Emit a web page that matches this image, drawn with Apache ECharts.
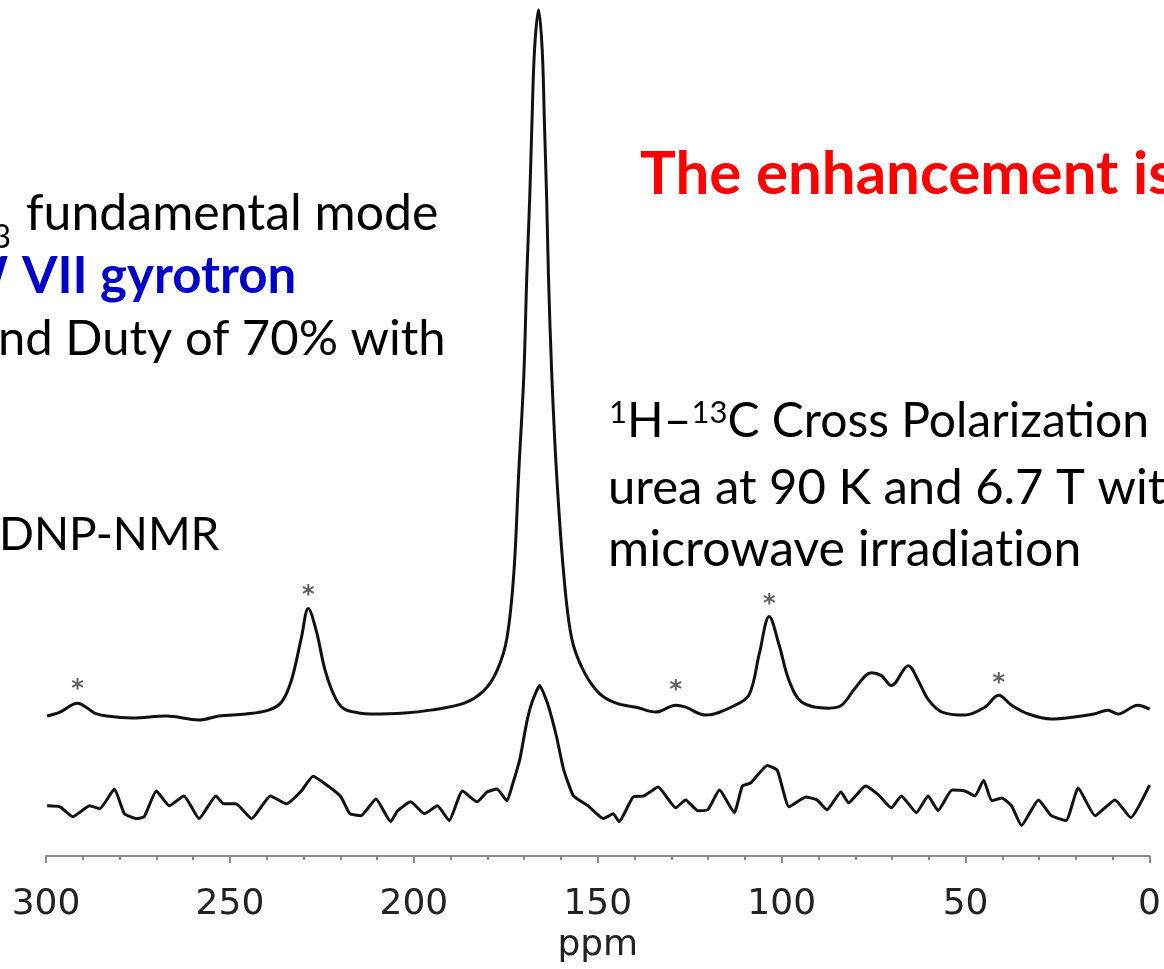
<!DOCTYPE html>
<html>
<head>
<meta charset="utf-8">
<script src="https://cdn.jsdelivr.net/npm/echarts@6/dist/echarts.min.js"></script>
<style>
html,body{margin:0;padding:0;background:#fff;}
#chart{width:1164px;height:969px;}
</style>
</head>
<body>
<div id="chart"></div>
<script>
// ---- axis tick labels (ppm) ----
const ppmTicks = [300, 250, 200, 150, 100, 50, 0];

// ---- DNP-enhanced spectrum (microwave on): chemical shift (ppm) and intensity ----
const onPpm = [299.7,296.2,291.4,288.7,286.8,283.5,276.5,267.3,258.4,253.0,245.7,239.5,236.0,233.3,230.6,228.7,226.5,224.1,221.4,219.0,215.0,211.7,202.5,195.5,186.3,180.9,177.4,174.7,172.8,171.5,170.1,169.3,168.5,167.9,167.2,166.1,165.1,164.5,163.9,163.4,162.5,161.2,159.3,157.1,153.9,149.6,145.0,139.6,134.2,128.8,126.1,120.7,112.6,108.8,106.1,103.4,100.7,98.0,94.5,87.2,83.7,79.9,75.6,72.9,70.2,65.6,62.9,60.2,56.4,50.2,44.8,41.0,37.5,32.9,26.7,20.5,15.1,11.3,8.6,3.2,0];
const onIntensity = [-0.85,-0.28,0.99,0.28,-0.42,-0.85,-1.13,-0.85,-1.41,-0.85,-0.56,0,1.13,4.24,10.31,14.55,11.3,5.65,1.8,0.2,-0.4,-0.56,-0.42,0,0.99,2.82,5.65,10.31,19.77,33.9,48.0,62.1,73.4,84.0,94.5,100.3,94.5,84.0,73.4,62.1,48.0,33.9,19.77,10.31,5.65,2.4,0.99,0.42,-0.28,0.71,0.42,-0.71,0.71,2.26,8.05,13.4,9.32,4.24,1.13,0.28,0.71,3.25,5.37,4.94,3.53,6.36,4.24,1.55,-0.28,-0.71,0.42,2.12,0.71,-0.56,-1.27,-0.99,-0.56,0,-0.56,0.71,0.14];

// ---- spectrum without microwave irradiation ----
const offPpm = [299.7,296.2,292.7,288.1,285.4,281.4,278.7,275.4,273.3,270.0,266.5,262.5,258.4,253.8,251.7,248.4,244.1,239.0,234.6,230.6,227.4,223.3,219.8,217.4,214.4,210.3,206.3,204.4,200.9,197.1,193.6,190.4,186.8,182.8,180.1,177.4,174.7,173.3,171.2,169.3,167.9,165.8,163.6,161.2,159.3,156.6,152.6,148.5,145.8,144.2,140.4,137.4,133.6,128.8,126.1,122.8,120.1,116.9,112.9,110.7,108.5,103.9,101.2,98.0,93.4,90.4,87.7,83.9,81.8,77.2,73.7,70.2,67.5,63.4,60.2,57.5,53.7,50.2,47.5,45.1,42.9,40.2,37.5,34.8,30.2,26.7,22.7,19.4,14.8,9.4,5.1,0];
const offIntensity = [0.42,0.28,-1.13,0.42,0,2.82,-0.71,-1.41,-1.13,2.54,0.42,1.84,-1.41,1.84,0.71,0.71,-1.41,1.84,0.71,2.54,4.66,3.25,1.69,-0.71,-0.99,1.41,-1.84,-0.28,0.99,-0.71,0.42,-1.69,2.54,0.99,2.4,2.82,1.13,3.25,7.06,12.4,15.2,17.66,15.0,10.31,5.65,1.84,0.42,-1.41,-0.71,-1.84,1.69,1.84,3.11,0.14,1.27,-0.28,-0.14,2.68,-0.56,3.25,3.67,6.21,5.51,0.28,1.69,1.27,-0.14,2.4,0.85,3.25,1.98,0.14,1.84,-0.56,1.84,-0.28,2.68,2.54,1.84,4.1,1.13,1.55,0.42,-2.4,1.27,-0.99,-1.69,2.97,-0.99,1.27,-1.27,3.39];

// ---- spinning sidebands marked with asterisks (ppm, intensity level of the mark) ----
const sidebandPpm = [291.4, 228.7, 128.8, 103.4, 41.0];
const sidebandLevel = [3.8, 17.2, 3.7, 16.0, 4.7];

const zip = (a, b) => a.map((v, i) => [v, b[i]]);

const chart = echarts.init(document.getElementById('chart'), null, {renderer: 'canvas'});

const F = 'Lato';
const cy = (baseline, size) => baseline - 0.387 * size;

const option = {
  animation: false,
  backgroundColor: '#ffffff',
  grid: {left: 46, right: 7, top: 0, bottom: 101, containLabel: false},
  xAxis: {
    type: 'value',
    inverse: true,
    min: Math.min(...ppmTicks),
    max: Math.max(...ppmTicks),
    interval: ppmTicks[0] - ppmTicks[1],
    name: 'ppm',
    nameLocation: 'middle',
    nameGap: 71,
    nameTextStyle: {fontFamily: 'DejaVu Sans', fontSize: 36, color: '#222'},
    axisLine: {onZero: false, lineStyle: {color: '#8a8a8a', width: 2}},
    axisTick: {show: true, inside: false, length: 7, lineStyle: {color: '#8a8a8a', width: 2}},
    minorTick: {show: true, splitNumber: 5, length: 4, lineStyle: {color: '#8a8a8a', width: 2}},
    splitLine: {show: false},
    axisLabel: {margin: 31, fontFamily: 'DejaVu Sans', fontSize: 36, color: '#222'}
  },
  yAxis: [
    {type: 'value', show: false, min: -20.904, max: 101.695, splitLine: {show: false}},
    {type: 'value', show: false, min: -6.780, max: 115.819, splitLine: {show: false}}
  ],
  series: [
    {
      name: 'microwave on', type: 'line', xAxisIndex: 0, yAxisIndex: 0,
      data: zip(onPpm, onIntensity), smooth: 0.35, symbol: 'none', silent: true,
      lineStyle: {color: '#111', width: 3}
    },
    {
      name: 'microwave off', type: 'line', xAxisIndex: 0, yAxisIndex: 1,
      data: zip(offPpm, offIntensity), smooth: 0.15, symbol: 'none', silent: true,
      lineStyle: {color: '#111', width: 3}
    },
    {
      name: 'sidebands', type: 'scatter', xAxisIndex: 0, yAxisIndex: 0,
      data: zip(sidebandPpm, sidebandLevel), symbolSize: 1, silent: true,
      itemStyle: {color: 'rgba(0,0,0,0)'},
      label: {show: true, position: 'inside', formatter: '*', fontFamily: 'DejaVu Sans', fontWeight: 'bold', fontSize: 24, color: '#3a3a3a', offset: [0, 6]}
    }
  ],
  graphic: [
    {type: 'text', x: 11, y: cy(250, 32), style: {text: '3', font: '32px ' + F, fill: '#000', align: 'right', verticalAlign: 'middle'}},
    {type: 'text', x: 26, y: cy(233, 50), style: {text: 'fundamental mode', font: '50px ' + F, fill: '#000', align: 'left', verticalAlign: 'middle'}},
    {type: 'text', x: 8, y: cy(296, 51), style: {text: 'W', font: 'bold 51px ' + F, fill: '#0000C8', align: 'right', verticalAlign: 'middle'}},
    {type: 'text', x: 22, y: cy(296, 51), style: {text: 'VII gyrotron', font: 'bold 51px ' + F, fill: '#0000C8', align: 'left', verticalAlign: 'middle'}},
    {type: 'text', x: -2, y: cy(358, 49), style: {text: 'nd Duty of 70% with', font: '49px ' + F, fill: '#000', align: 'left', verticalAlign: 'middle'}},
    {type: 'text', x: -1, y: cy(553, 46), style: {text: 'DNP-NMR', font: '46px ' + F, fill: '#000', align: 'left', verticalAlign: 'middle'}},
    {type: 'text', x: 640, y: cy(198, 60), style: {text: 'The enhancement is', font: 'bold 60px ' + F, fill: '#FF0000', align: 'left', verticalAlign: 'middle'}},
    {type: 'text', x: 609, y: cy(440, 48), style: {
      text: '{sup|1}{n|H–}{sup|13}{n|C Cross Polariza\u200Ction}', align: 'left', verticalAlign: 'middle',
      rich: {
        n: {fontFamily: F, fontSize: 48, lineHeight: 48, color: '#000'},
        sup: {fontFamily: F, fontSize: 31, lineHeight: 31, color: '#000', verticalAlign: 'top'}
      }
    }},
    {type: 'text', x: 608, y: cy(507, 49), style: {text: 'urea at 90 K and 6.7 T with', font: '49px ' + F, fill: '#000', align: 'left', verticalAlign: 'middle'}},
    {type: 'text', x: 608, y: cy(569, 50), style: {text: 'microwave irradiat\u200Cion', font: '50px ' + F, fill: '#000', align: 'left', verticalAlign: 'middle'}}
  ]
};
chart.setOption(option);
</script>
</body>
</html>
